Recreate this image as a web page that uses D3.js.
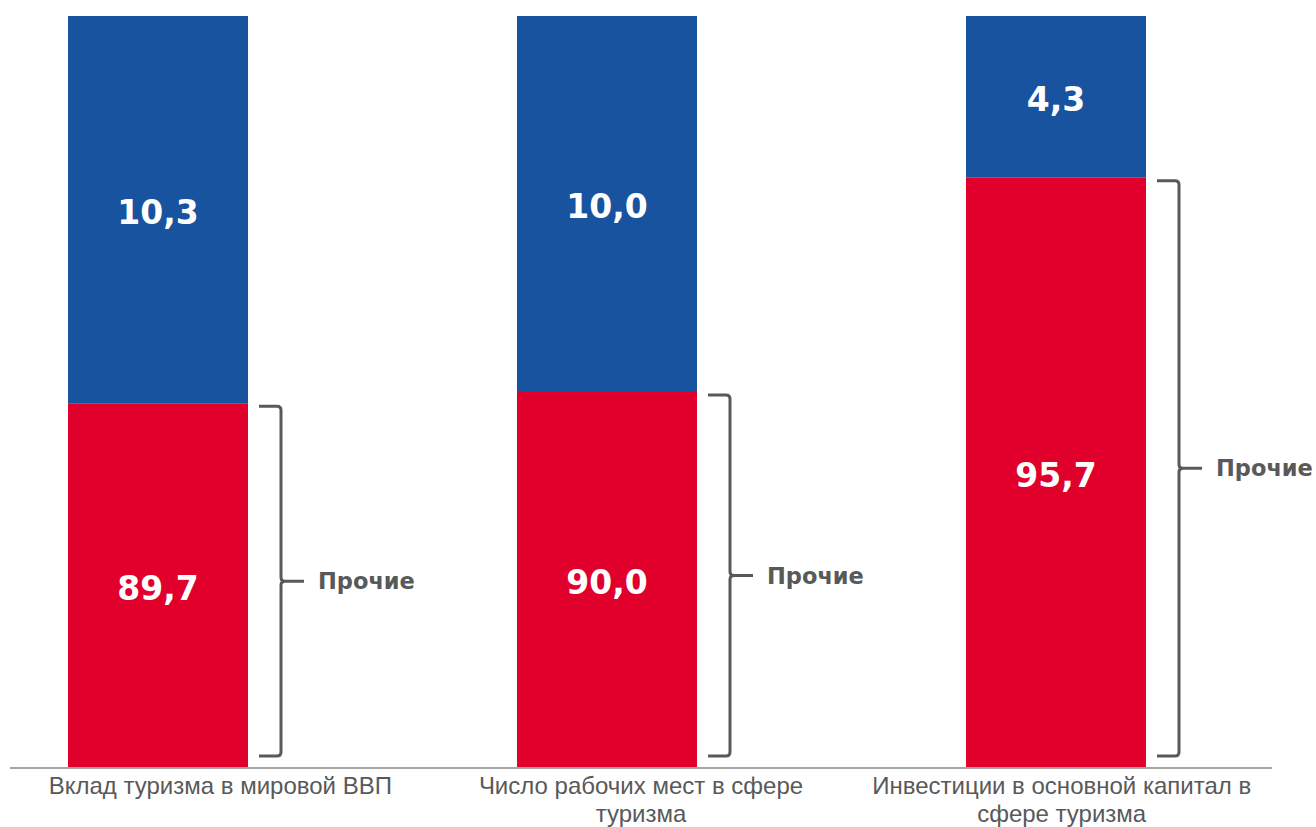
<!DOCTYPE html>
<html>
<head>
<meta charset="utf-8">
<script src="https://cdn.jsdelivr.net/npm/d3@7"></script>
<style>
  body { margin: 0; background: #fff; }
  svg { display: block; }
</style>
</head>
<body>
<svg></svg>
<script>
// data
const categories = ["Вклад туризма в мировой ВВП", "Число рабочих мест в сфере туризма", "Инвестиции в основной капитал в сфере туризма"];
const categoryLines = [["Вклад туризма в мировой ВВП"], ["Число рабочих мест в сфере", "туризма"], ["Инвестиции в основной капитал в", "сфере туризма"]];
const tourism = [10.3, 10.0, 4.3];
const others = [89.7, 90.0, 95.7];
const othersLabel = "Прочие";

const width = 1316, height = 827;

const svg = d3.select("svg")
    .attr("width", width)
    .attr("height", height);

// value axis starts at 80, lower part of the bars is cut off
const y = d3.scaleLinear()
    .domain([80, 100])
    .range([768, 16])
    .clamp(true);

// category axis (labels) and bar positions
const x = d3.scaleBand()
    .domain(categories)
    .range([10, 1272]);

const xBar = d3.scalePoint()
    .domain(categories)
    .range([158, 1056]);

const barW = 180;

const rows = categories.map((c, i) => ({ cat: c, lines: categoryLines[i], tour: tourism[i], oth: others[i] }));

const stack = d3.stack().keys(["oth", "tour"]);
const series = stack(rows);
const colors = { oth: "#E0002B", tour: "#1853A0" };

const fmt = v => d3.format(".1f")(v).replace(".", ",");

const g = svg.append("g");

// bars
g.selectAll("g.series")
    .data(series)
    .enter().append("g")
    .attr("class", "series")
    .attr("fill", d => colors[d.key])
    .selectAll("rect")
    .data(d => d)
    .enter().append("rect")
    .attr("x", d => xBar(d.data.cat) - barW / 2)
    .attr("width", barW)
    .attr("y", d => y(d[1]))
    .attr("height", d => y(d[0]) - y(d[1]));

// value labels in the middle of the visible part
g.selectAll("g.labels")
    .data(series)
    .enter().append("g")
    .attr("class", "labels")
    .selectAll("text")
    .data(d => d.map(p => ({ p: p, key: d.key })))
    .enter().append("text")
    .attr("x", d => xBar(d.p.data.cat))
    .attr("y", d => (y(d.p[0]) + y(d.p[1])) / 2)
    .attr("dy", "0.42em")
    .attr("text-anchor", "middle")
    .attr("fill", "#fff")
    .style("font-family", "'DejaVu Sans', Verdana, sans-serif")
    .style("font-weight", "bold")
    .style("font-size", "33px")
    .text(d => fmt(d.p.data[d.key]));

// brackets for the "others" part
const br = g.selectAll("g.bracket")
    .data(series[0])
    .enter().append("g")
    .attr("class", "bracket");

br.append("path")
    .attr("fill", "none")
    .attr("stroke", "#595959")
    .attr("stroke-width", 3)
    .attr("stroke-linejoin", "round")
    .attr("d", d => {
        const x0 = xBar(d.data.cat) + barW / 2 + 11;
        const x1 = x0 + 22;
        const t = y(d[1]) + 3;
        const b = y(d[0]) - 12;
        const m = (t + b) / 2;
        const r = 4;
        return "M" + x0 + "," + t + "H" + (x1 - r) + "Q" + x1 + "," + t + " " + x1 + "," + (t + r) +
            "V" + (m - r) + "Q" + x1 + "," + m + " " + (x1 + r) + "," + m + "H" + (x1 + 23) +
            "M" + (x1 + r) + "," + m + "Q" + x1 + "," + m + " " + x1 + "," + (m + r) +
            "V" + (b - r) + "Q" + x1 + "," + b + " " + (x1 - r) + "," + b + "H" + x0;
    });

br.append("text")
    .attr("x", d => xBar(d.data.cat) + barW / 2 + 70)
    .attr("y", d => (y(d[1]) + 3 + y(d[0]) - 12) / 2)
    .attr("dy", "0.36em")
    .attr("fill", "#595959")
    .style("font-family", "'DejaVu Sans', Verdana, sans-serif")
    .style("font-weight", "bold")
    .style("font-size", "22.5px")
    .text(othersLabel);

// category axis
const axis = svg.append("g")
    .attr("transform", "translate(0," + y(80) + ")")
    .call(d3.axisBottom(x).tickSize(0).tickFormat(""));

axis.select(".domain")
    .attr("stroke", "#A6A6A6")
    .attr("stroke-width", 2)
    .attr("d", "M10,0H1272");

axis.selectAll(".tick").each(function(d, i) {
    const t = d3.select(this).append("text")
        .attr("text-anchor", "middle")
        .attr("fill", "#595959")
        .style("font-family", "'Liberation Sans Narrow', 'Arial Narrow', 'Liberation Sans', sans-serif")
        .style("font-size", "24px");
    t.selectAll("tspan")
        .data(categoryLines[i])
        .enter().append("tspan")
        .attr("x", 0)
        .attr("y", (l, j) => 26 + j * 28)
        .text(l => l);
});
</script>
</body>
</html>
